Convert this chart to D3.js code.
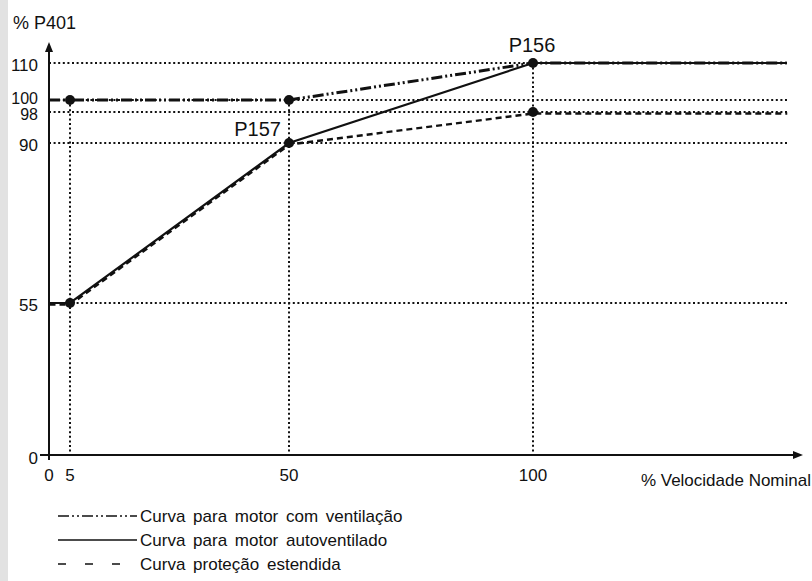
<!DOCTYPE html>
<html><head><meta charset="utf-8">
<script src="https://cdn.jsdelivr.net/npm/d3@7"></script>
<style>
html,body{margin:0;padding:0;background:#fff;}
body{width:812px;height:581px;overflow:hidden;}
svg text{font-family:"Liberation Sans",Arial,sans-serif;fill:#111;}
</style></head>
<body>
<svg id="chart" width="812" height="581"></svg>
<script>
// ---- data ----
const xTicks = [0, 5, 50, 100];
const yTicks = [0, 55, 90, 98, 100, 110];
const xEnd = 152; // curves continue past 100 %
const curveVentilacao = [[0,100],[5,100],[50,100],[100,110],[xEnd,110]];
const curveAutoventilado = [[0,55],[5,55],[50,90],[100,110],[xEnd,110]];
const curveEstendida = [[0,55],[5,55],[50,90],[100,98],[xEnd,98]];
const markers = [[5,100],[5,55],[50,90],[50,100],[100,110],[100,98]];
const vGrid = [[5,100],[50,100],[100,110]];
const hGrid = [55, 90, 98, 100, 110];
const pointLabels = [{t:"P156", x:100, y:110, anchor:"middle"}, {t:"P157", x:50, y:90, anchor:"end"}];
const legendItems = [
  {t:"Curva para motor com ventilação", dash:"11,3,2,3,2,3"},
  {t:"Curva para motor autoventilado", dash:null},
  {t:"Curva proteção estendida", dash:"8,19"}
];

// ---- scales (schematic, piecewise) ----
const x = d3.scaleLinear().domain([0,5,50,100]).range([49,70,289,533]);
const y = d3.scaleLinear().domain([0,55,90,98,100,110]).range([455,303,143,112,100,63]);

const svg = d3.select("#chart");
svg.append("rect").attr("x",0).attr("y",0).attr("width",8).attr("height",581).attr("fill","#e2e2e2");

const gridRight = 789;
const dot = "2,2.6";
// horizontal dotted grid
svg.append("g").selectAll("line").data(hGrid).join("line")
  .attr("x1", x(0)).attr("x2", gridRight)
  .attr("y1", d=>y(d)).attr("y2", d=>y(d))
  .attr("stroke","#111").attr("stroke-width",2).attr("stroke-dasharray",dot);
// vertical dotted grid
svg.append("g").selectAll("line").data(vGrid).join("line")
  .attr("x1", d=>x(d[0])).attr("x2", d=>x(d[0]))
  .attr("y1", d=>y(d[1])).attr("y2", y(0))
  .attr("stroke","#111").attr("stroke-width",2).attr("stroke-dasharray",dot);

// axes
const axisColor = "#111";
svg.append("line").attr("x1",40).attr("x2",796).attr("y1",y(0)).attr("y2",y(0))
  .attr("stroke",axisColor).attr("stroke-width",2);
svg.append("path").attr("d",`M803,${y(0)} L793,${y(0)-4} L793,${y(0)+4} Z`).attr("fill",axisColor);
svg.append("line").attr("x1",x(0)).attr("x2",x(0)).attr("y1",y(0)+5).attr("y2",50)
  .attr("stroke",axisColor).attr("stroke-width",2);
svg.append("path").attr("d",`M${x(0)},42 L${x(0)-4},52 L${x(0)+4},52 Z`).attr("fill",axisColor);

// curves
const line = d3.line().x(d=>x(d[0])).y(d=>y(d[1]));
svg.append("path").datum(curveEstendida).attr("d",line)
  .attr("transform","translate(0.5,1.5)")
  .attr("fill","none").attr("stroke","#111").attr("stroke-width",2.4).attr("stroke-dasharray","6,4");
svg.append("path").datum(curveAutoventilado).attr("d",line)
  .attr("fill","none").attr("stroke","#111").attr("stroke-width",2.2);
svg.append("path").datum(curveVentilacao).attr("d",line)
  .attr("fill","none").attr("stroke","#111").attr("stroke-width",3).attr("stroke-dasharray","11,3,2,3,2,3");

// markers
svg.append("g").selectAll("circle").data(markers).join("circle")
  .attr("cx",d=>x(d[0])).attr("cy",d=>y(d[1])).attr("r",5).attr("fill","#111");

// tick labels
const yLabelNudge = d => d===100 ? -2 : d===98 ? 2 : (d===0 ? 3 : 2);
svg.append("g").selectAll("text").data(yTicks).join("text")
  .attr("x",38).attr("y",d=>y(d)+yLabelNudge(d)).attr("dy","0.36em")
  .attr("text-anchor","end").attr("font-size",d=>(d===100||d===98)?16:17).text(d=>d);
svg.append("g").selectAll("text").data(xTicks).join("text")
  .attr("x",d=>x(d)).attr("y",481)
  .attr("text-anchor","middle").attr("font-size",17).text(d=>d);

// axis titles
svg.append("text").attr("x",13).attr("y",29).attr("font-size",18).text("% P401");
svg.append("text").attr("x",811).attr("y",486).attr("text-anchor","end").attr("font-size",17).text("% Velocidade Nominal");

// point labels
svg.append("g").selectAll("text").data(pointLabels).join("text")
  .attr("x",d=>d.anchor==="end" ? x(d.x)-8 : x(d.x)-1)
  .attr("y",d=>d.anchor==="end" ? y(d.y)-7 : y(d.y)-11)
  .attr("text-anchor",d=>d.anchor).attr("font-size",20).text(d=>d.t);

// legend
const lg = svg.append("g").selectAll("g").data(legendItems).join("g")
  .attr("transform",(d,i)=>`translate(0,${516+i*24})`);
lg.append("line").attr("x1",58).attr("x2",137).attr("y1",0).attr("y2",0)
  .attr("stroke","#111").attr("stroke-width",1.3)
  .attr("stroke-dasharray",d=>d.dash);
lg.append("text").attr("x",140).attr("y",0).attr("dy","0.36em")
  .attr("font-size",17).attr("word-spacing","3px").text(d=>d.t);
</script>
</body></html>
